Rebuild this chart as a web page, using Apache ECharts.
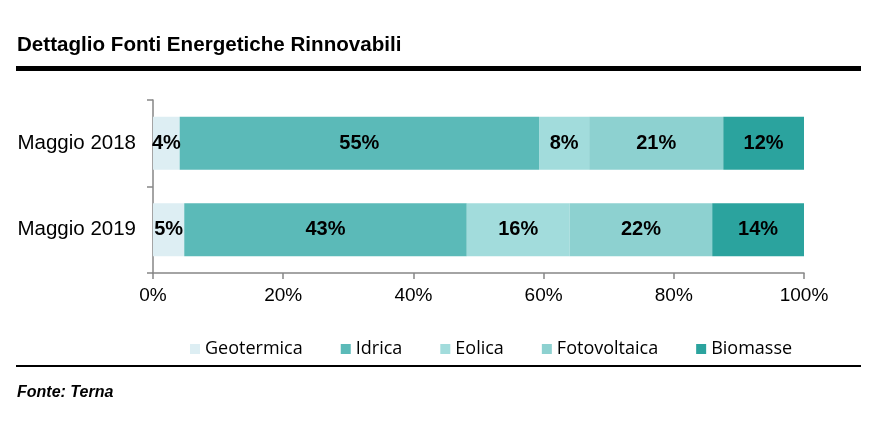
<!DOCTYPE html>
<html>
<head>
<meta charset="utf-8">
<script src="https://cdn.jsdelivr.net/npm/echarts@6/dist/echarts.min.js"></script>
<style>
html,body{margin:0;padding:0;background:#fff;}
#chart{width:873px;height:429px;}
</style>
</head>
<body>
<div id="chart"></div>
<script>
const categories = ['Maggio 2018', 'Maggio 2019'];
const seriesNames = ['Geotermica', 'Idrica', 'Eolica', 'Fotovoltaica', 'Biomasse'];
const geotermica = [4.1, 4.8];
const idrica = [55.2, 43.4];
const eolica = [7.7, 15.8];
const fotovoltaica = [20.6, 21.9];
const biomasse = [12.4, 14.1];
const xTicks = [0, 20, 40, 60, 80, 100];
const colors = ['#DDEEF3', '#5BBAB8', '#A2DCDC', '#8DD1D0', '#2BA39E'];

const allValues = [geotermica, idrica, eolica, fotovoltaica, biomasse];
const font = 'Liberation Sans, Arial, sans-serif';

const chart = echarts.init(document.getElementById('chart'));
chart.setOption({
  animation: false,
  title: {
    text: 'Dettaglio Fonti Energetiche Rinnovabili',
    left: 12, top: 30,
    textStyle: {fontFamily: font, fontSize: 20.6, fontWeight: 'bold', color: '#000'}
  },
  grid: {left: 153, right: 69, top: 100, bottom: 156, containLabel: false},
  legend: {
    left: 185, top: 335,
    itemWidth: 10, itemHeight: 10, itemGap: 38,
    icon: 'rect',
    textStyle: {fontFamily: 'Open Sans, sans-serif', fontSize: 18, color: '#000'},
    data: seriesNames
  },
  xAxis: {
    type: 'value', min: xTicks[0], max: xTicks[xTicks.length - 1], interval: 20,
    axisLine: {show: true, lineStyle: {color: '#868686', width: 1.5}},
    axisTick: {show: true, length: 6, lineStyle: {color: '#868686', width: 1.5}},
    splitLine: {show: false},
    axisLabel: {formatter: '{value}%', fontFamily: font, fontSize: 19, color: '#000', margin: 13}
  },
  yAxis: {
    type: 'category', data: categories, inverse: true,
    axisLine: {show: true, lineStyle: {color: '#868686', width: 1.5}},
    axisTick: {show: true, length: 6, lineStyle: {color: '#868686', width: 1.5}},
    axisLabel: {fontFamily: font, fontSize: 20.5, color: '#000', margin: 17}
  },
  series: seriesNames.map((name, i) => ({
    name: name,
    type: 'bar',
    stack: 'total',
    barWidth: 53,
    data: allValues[i],
    itemStyle: {color: colors[i]},
    label: {
      show: true, position: 'inside',
      formatter: p => Math.round(p.value) + '%',
      fontFamily: font, fontSize: 20, fontWeight: 'bold', color: '#000'
    }
  })),
  graphic: [
    {type: 'rect', shape: {x: 16, y: 66, width: 845, height: 5}, style: {fill: '#000'}},
    {type: 'rect', shape: {x: 16, y: 365, width: 845, height: 2}, style: {fill: '#000'}},
    {type: 'text', left: 17, top: 385, style: {text: 'Fonte: Terna', font: 'italic bold 16px Liberation Sans, Arial, sans-serif', fill: '#000'}}
  ]
});
</script>
</body>
</html>
